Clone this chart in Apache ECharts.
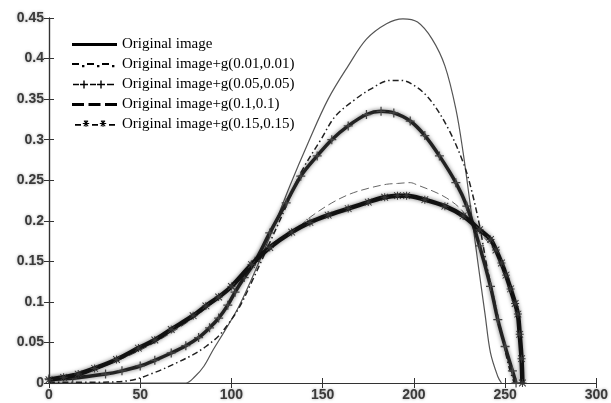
<!DOCTYPE html>
<html>
<head>
<meta charset="utf-8">
<script src="https://cdn.jsdelivr.net/npm/echarts@6/dist/echarts.min.js"></script>
<style>
html,body{margin:0;padding:0;background:#fff;}
#c{width:611px;height:403px;}
</style>
</head>
<body>
<div id="c"></div>
<script>
// Series names (legend)
var seriesNames = [
  'Original image',
  'Original image+g(0.01,0.01)',
  'Original image+g(0.05,0.05)',
  'Original image+g(0.1,0.1)',
  'Original image+g(0.15,0.15)'
];

// Axis ticks
var xTicks = [0, 50, 100, 150, 200, 250, 300];
var yTicks = [0, 0.05, 0.1, 0.15, 0.2, 0.25, 0.3, 0.35, 0.4, 0.45];

// Original image (thin solid)
var origX = [0, 70, 75, 80, 85, 90, 96, 104, 111, 121, 132, 142, 153, 164, 174, 185, 194, 202, 210, 217, 223, 227, 231, 235, 239, 242, 246, 248];
var origY = [0, 0, 0, 0.008, 0.021, 0.041, 0.063, 0.094, 0.128, 0.180, 0.243, 0.296, 0.350, 0.391, 0.424, 0.443, 0.449, 0.445, 0.424, 0.391, 0.338, 0.284, 0.218, 0.150, 0.085, 0.037, 0.008, 0];

// g(0.01,0.01) (dash-dot)
var g001X = [0, 26, 44, 58, 71, 79, 86, 93, 97, 104, 111, 121, 130, 138, 149, 157, 168, 176, 187, 193, 202, 210, 219, 227, 231, 236, 240, 244, 248, 252, 255];
var g001Y = [0.001, 0.001, 0.003, 0.013, 0.026, 0.035, 0.045, 0.058, 0.069, 0.092, 0.124, 0.173, 0.218, 0.259, 0.300, 0.329, 0.350, 0.362, 0.373, 0.373, 0.364, 0.346, 0.313, 0.272, 0.243, 0.194, 0.144, 0.103, 0.062, 0.021, 0];

// g(0.05,0.05) (plus markers)
var g005X = [0, 13, 31, 40, 50, 58, 67, 75, 82, 88, 93, 98, 102, 107, 113, 121, 130, 138, 147, 155, 164, 174, 182, 189, 198, 206, 214, 223, 229, 236, 242, 246, 250, 254, 256];
var g005Y = [0.005, 0.006, 0.011, 0.015, 0.021, 0.028, 0.037, 0.046, 0.056, 0.068, 0.080, 0.096, 0.112, 0.130, 0.150, 0.185, 0.222, 0.255, 0.280, 0.300, 0.317, 0.331, 0.335, 0.333, 0.323, 0.305, 0.280, 0.247, 0.218, 0.169, 0.119, 0.078, 0.045, 0.015, 0];

// g(0.1,0.1) (dashed)
var g01X = [0, 16, 37, 58, 79, 100, 111, 121, 135, 143.5, 155, 165, 175, 185, 191, 198, 202, 211, 218, 225, 231, 236, 242, 248, 253, 257, 258.5, 259.5];
var g01Y = [0.004, 0.010, 0.027, 0.050, 0.080, 0.118, 0.145, 0.170, 0.189, 0.205, 0.222, 0.233, 0.240, 0.245, 0.246, 0.247, 0.244, 0.236, 0.228, 0.216, 0.200, 0.186, 0.170, 0.150, 0.118, 0.088, 0.050, 0];

// g(0.15,0.15) (star markers)
var g015X = [0, 8, 16, 25, 37, 49, 58, 67, 79, 86, 93, 100, 111, 121, 133, 143, 153, 164, 175, 184, 191, 196, 206, 217, 227, 236, 242, 245, 248, 250.5, 253, 255.5, 257, 258, 259, 259.5];
var g015Y = [0.004, 0.007, 0.011, 0.018, 0.029, 0.043, 0.053, 0.066, 0.083, 0.095, 0.106, 0.119, 0.146, 0.167, 0.186, 0.198, 0.207, 0.215, 0.223, 0.229, 0.231, 0.231, 0.226, 0.218, 0.206, 0.189, 0.177, 0.164, 0.148, 0.133, 0.116, 0.098, 0.085, 0.060, 0.030, 0];

function pairs(xs, ys) { return xs.map(function (x, i) { return [x, ys[i]]; }); }

var plusPath = 'path://M4.3,0h1.4v4.3h4.3v1.4h-4.3v4.3h-1.4v-4.3h-4.3v-1.4h4.3z';
var starPath = 'path://M4.4,0h1.2v10h-1.2z M0,4.4h10v1.2h-10z M1.2,0.4L9.6,8.8L8.8,9.6L0.4,1.2z M8.8,0.4L9.6,1.2L1.2,9.6L0.4,8.8z';

// legend icon shapes in a 45x10 box (tiny corner anchors keep the box size)
var anchors = 'M0,0h0.01v0.01h-0.01z M44.99,9.99h0.01v0.01h-0.01z ';
var iconSolid = 'path://' + anchors + 'M0,3.6h45v2.8h-45z';
var iconDashDot = 'path://' + anchors + 'M0,3.6h7v1.8h-7z M10,5.4h2.4v2.4h-2.4z M15,3.6h7v1.8h-7z M25,5.4h2.4v2.4h-2.4z M30,3.6h7v1.8h-7z M40,5.4h2.4v2.4h-2.4z';
var iconPlus = 'path://' + anchors + 'M1,4.2h6v1.6h-6z M11.3,1h1.4v8h-1.4z M8,4.3h8v1.4h-8z M18,4.2h6v1.6h-6z M28.3,1h1.4v8h-1.4z M25,4.3h8v1.4h-8z M35,4.2h7v1.6h-7z';
var iconDash = 'path://' + anchors + 'M0,3.6h12v2.8h-12z M16.5,3.6h12v2.8h-12z M33,3.6h12v2.8h-12z';
var iconStar = 'path://' + anchors + 'M3,4.6h6v1.6h-6z M13.4,0.8h1.2v6.4h-1.2z M10.8,3.4h6.4v1.2h-6.4z M11.6,1.4L12.4,0.8L16.6,6.4L15.8,7z M15.6,0.8L16.4,1.4L12.2,7L11.4,6.4z M20,4.6h6v1.6h-6z M30.4,0.8h1.2v6.4h-1.2z M27.8,3.4h6.4v1.2h-6.4z M28.6,1.4L29.4,0.8L33.6,6.4L32.8,7z M32.6,0.8L33.4,1.4L29.2,7L28.4,6.4z M37,4.6h6v1.6h-6z';

var axisLabelStyle = {
  fontFamily: 'Liberation Sans, Arial, sans-serif',
  fontWeight: 'bold',
  fontSize: 14,
  color: '#3a3a3a',
  textShadowColor: 'rgba(0,0,0,0.35)',
  textShadowBlur: 3
};

var chart = echarts.init(document.getElementById('c'), null, { renderer: 'canvas' });
chart.setOption({
  backgroundColor: '#fff',
  animation: false,
  grid: { left: 49, right: 10, top: 18, bottom: 20, containLabel: false },
  legend: {
    orient: 'vertical',
    left: 72,
    top: 37,
    padding: 0,
    itemWidth: 45,
    itemHeight: 10,
    itemGap: 5,
    textStyle: { fontFamily: 'Liberation Serif, Times New Roman, serif', fontSize: 15, color: '#000' },
    data: [
      { name: seriesNames[0], icon: iconSolid, itemStyle: { color: '#000' } },
      { name: seriesNames[1], icon: iconDashDot, itemStyle: { color: '#000' } },
      { name: seriesNames[2], icon: iconPlus, itemStyle: { color: '#000' } },
      { name: seriesNames[3], icon: iconDash, itemStyle: { color: '#000' } },
      { name: seriesNames[4], icon: iconStar, itemStyle: { color: '#000' } }
    ]
  },
  xAxis: [
    {
      type: 'value', min: 0, max: 300, interval: 50, position: 'bottom',
      axisLine: { lineStyle: { color: '#333', width: 1.2 } },
      axisTick: { inside: true, length: 5, lineStyle: { color: '#333' } },
      axisLabel: Object.assign({ margin: 5, formatter: function (v) { return xTicks.indexOf(v) >= 0 ? String(v) : ''; } }, axisLabelStyle),
      splitLine: { show: false }
    },
    {
      type: 'value', min: 0, max: 300, interval: 50, position: 'top',
      axisLine: { show: true, lineStyle: { color: '#333', width: 1.2 } },
      axisTick: { inside: true, length: 5, lineStyle: { color: '#333' } },
      axisLabel: { show: false },
      splitLine: { show: false }
    }
  ],
  yAxis: [
    {
      type: 'value', min: 0, max: 0.45, interval: 0.05, position: 'left',
      axisLine: { show: true, lineStyle: { color: '#333', width: 1.2 } },
      axisTick: { show: true, inside: true, length: 5, lineStyle: { color: '#333' } },
      axisLabel: Object.assign({ margin: 5, formatter: function (v) {
        var r = Math.round(v * 100) / 100;
        return yTicks.indexOf(r) >= 0 ? String(r) : '';
      } }, axisLabelStyle),
      splitLine: { show: false }
    },
    {
      type: 'value', min: 0, max: 0.45, interval: 0.05, position: 'right',
      axisLine: { show: true, lineStyle: { color: '#333', width: 1.2 } },
      axisTick: { show: true, inside: true, length: 5, lineStyle: { color: '#333' } },
      axisLabel: { show: false },
      splitLine: { show: false }
    }
  ],
  series: [
    {
      name: seriesNames[0], type: 'line', data: pairs(origX, origY),
      smooth: 0.35, symbol: 'none', showSymbol: false,
      lineStyle: { color: '#555', width: 1.2, type: 'solid' },
      itemStyle: { color: '#555' }, z: 3
    },
    {
      name: seriesNames[1], type: 'line', data: pairs(g001X, g001Y),
      smooth: 0.35, symbol: 'none', showSymbol: false,
      lineStyle: { color: '#222', width: 1.5, type: [6, 3, 1.5, 3] },
      itemStyle: { color: '#222' }, z: 3
    },
    {
      name: seriesNames[2], type: 'line', data: pairs(g005X, g005Y),
      smooth: 0.35, symbol: plusPath, symbolSize: 9, showSymbol: true, showAllSymbol: true,
      lineStyle: { color: '#222', width: 3.5, type: 'solid', shadowColor: 'rgba(0,0,0,0.55)', shadowBlur: 4 },
      itemStyle: { color: '#444' }, z: 4
    },
    {
      name: seriesNames[3], type: 'line', data: pairs(g01X, g01Y),
      smooth: 0.35, symbol: 'none', showSymbol: false,
      lineStyle: { color: '#666', width: 1, type: [8, 4] },
      itemStyle: { color: '#666' }, z: 3
    },
    {
      name: seriesNames[4], type: 'line', data: pairs(g015X, g015Y),
      smooth: 0.35, symbol: starPath, symbolSize: 8, showSymbol: true, showAllSymbol: true,
      lineStyle: { color: '#111', width: 4.5, type: 'solid', shadowColor: 'rgba(0,0,0,0.55)', shadowBlur: 4 },
      itemStyle: { color: '#333' }, z: 5
    }
  ]
});
</script>
</body>
</html>
